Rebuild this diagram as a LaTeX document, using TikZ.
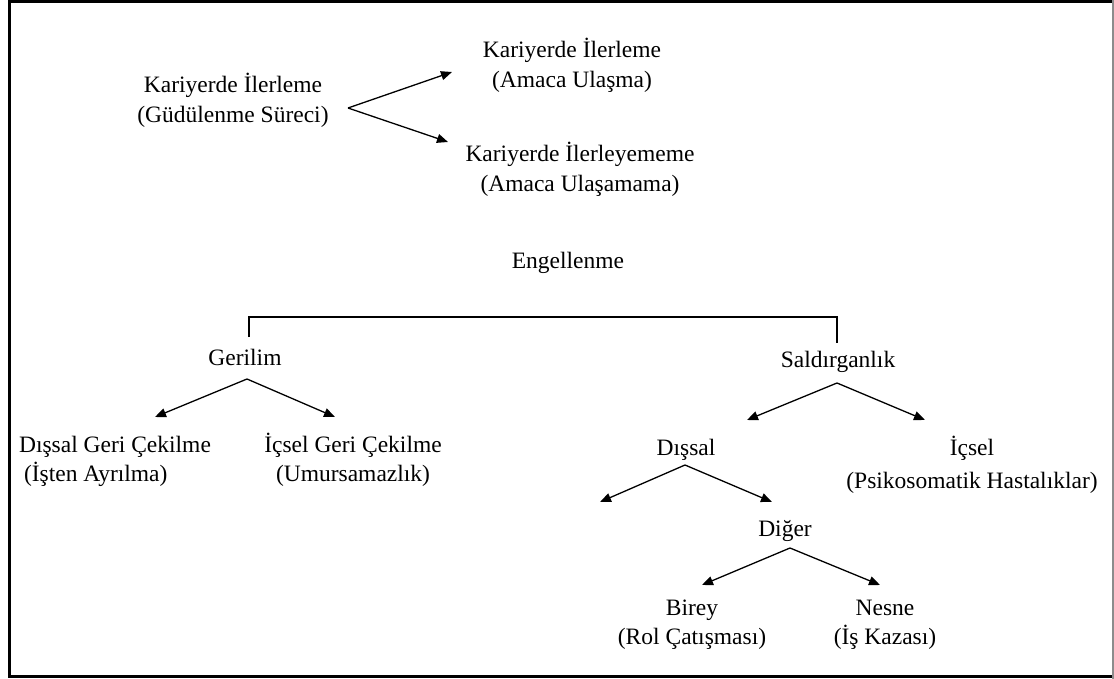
\documentclass[tikz,border=0pt]{standalone}
\usepackage{fontspec}
\setmainfont{Liberation Serif}
\usetikzlibrary{arrows.meta}
\tikzset{
  lbl/.style={inner sep=0pt, outer sep=0pt, anchor=base, align=center,
    font=\fontsize{23.5}{29.5}\selectfont},
  lblwide/.style={lbl, font=\fontsize{23.5}{33}\selectfont},
  arr/.style={line width=1.3pt, -{Triangle[length=11pt,width=9pt]}},
  brk/.style={line width=1.3pt},
  frame/.style={line width=3pt, black}
}
\begin{document}
\begin{tikzpicture}[x=1pt,y=-1pt]
\useasboundingbox (0,0) rectangle (1114,679);
% frame
\draw[frame] (1113,1.5) -- (9,1.5) -- (9,676.5) -- (1113,676.5);
\draw[line width=1.5pt, black!45] (1113,0) -- (1113,679);

% top part (base anchor = baseline of last line)
\node[lbl] (k1) at (233,122.5) {Kariyerde İlerleme\\(Güdülenme Süreci)};
\node[lbl] (k2) at (572,87.5) {Kariyerde İlerleme\\(Amaca Ulaşma)};
\node[lbl] (k3) at (580,191.5) {Kariyerde İlerleyememe\\(Amaca Ulaşamama)};
\coordinate (a0) at (348,108);
\coordinate (t0a) at (452,72);
\coordinate (t0b) at (448,142);
\draw[arr] (a0) -- (t0a);
\draw[arr] (a0) -- (t0b);

% Engellenme and bracket
\node[lbl] (eng) at (568,269) {Engellenme};
\coordinate (bl) at (249,337);
\coordinate (br) at (837,343);
\draw[brk] (bl) -- (bl |- 0,317) -- (br |- 0,317) -- (br);

% Gerilim branch
\node[lbl] (ger) at (245,365) {Gerilim};
\node[lbl, align=left] (dgc) at (115,481.5) {Dışsal Geri Çekilme\\\hspace*{5pt}(İşten Ayrılma)};
\node[lbl] (igc) at (353,481.5) {İçsel Geri Çekilme\\(Umursamazlık)};
\coordinate (a1) at (247,379);
\coordinate (t1a) at (155,417);
\coordinate (t1b) at (335,417);
\draw[arr] (a1) -- (t1a);
\draw[arr] (a1) -- (t1b);

% Saldirganlik branch
\node[lbl] (sal) at (838,367) {Saldırganlık};
\node[lbl] (dis) at (686,455) {Dışsal};
\node[lblwide] (ics) at (972,488) {İçsel\\(Psikosomatik Hastalıklar)};
\coordinate (a2) at (837,383);
\coordinate (t2a) at (747,420);
\coordinate (t2b) at (925,420);
\draw[arr] (a2) -- (t2a);
\draw[arr] (a2) -- (t2b);

% Dissal branch
\node[lbl] (dig) at (785,536) {Diğer};
\coordinate (a3) at (685,465);
\coordinate (t3a) at (600,502);
\coordinate (t3b) at (772,502);
\draw[arr] (a3) -- (t3a);
\draw[arr] (a3) -- (t3b);

% Diger branch
\node[lbl] (bir) at (692,644.5) {Birey\\(Rol Çatışması)};
\node[lbl] (nes) at (885,644.5) {Nesne\\(İş Kazası)};
\coordinate (a4) at (790,548);
\coordinate (t4a) at (702,585);
\coordinate (t4b) at (880,585);
\draw[arr] (a4) -- (t4a);
\draw[arr] (a4) -- (t4b);
\end{tikzpicture}
\end{document}
